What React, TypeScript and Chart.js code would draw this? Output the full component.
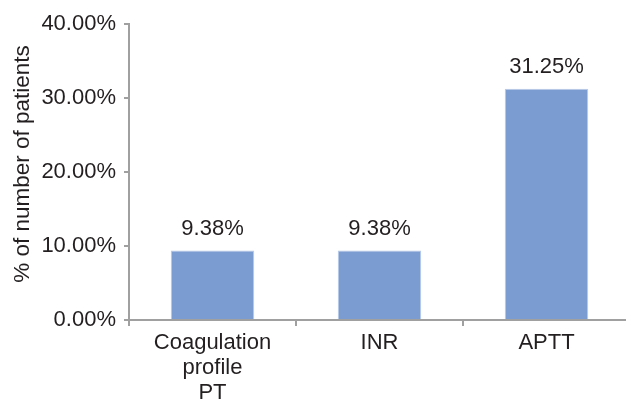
import React, { useEffect, useRef } from "react";
import { Chart, registerables } from "chart.js";

Chart.register(...registerables);

const categories: string[][] = [["Coagulation", "profile", "PT"], ["INR"], ["APTT"]];
const values: number[] = [9.38, 9.38, 31.25];
const valueLabels: string[] = ["9.38%", "9.38%", "31.25%"];
const yTicks: number[] = [0, 10, 20, 30, 40];
const yTitle = "% of number of patients";

const FONT = "'Liberation Sans', Arial, sans-serif";
const TEXT = "#231f20";
const AXIS = "#a0a0a0";

const labelPlugin = {
  id: "barLabels",
  afterDatasetsDraw(chart: any) {
    const { ctx } = chart;
    const meta = chart.getDatasetMeta(0);
    ctx.save();
    ctx.font = `22px ${FONT}`;
    ctx.fillStyle = TEXT;
    ctx.textAlign = "center";
    ctx.textBaseline = "middle";
    meta.data.forEach((el: any, i: number) => {
      const { x, y } = el.getProps(["x", "y"], true);
      ctx.fillText(valueLabels[i], x, y - 22);
    });
    ctx.restore();
  },
};

const titlePlugin = {
  id: "yTitle",
  afterDraw(chart: any) {
    const { ctx } = chart;
    ctx.save();
    ctx.font = `22.5px ${FONT}`;
    ctx.fillStyle = TEXT;
    ctx.textAlign = "center";
    ctx.textBaseline = "middle";
    ctx.translate(23, 164);
    ctx.rotate(-Math.PI / 2);
    ctx.fillText(yTitle, 0, 0);
    ctx.restore();
  },
};

export default function App() {
  const ref = useRef<HTMLCanvasElement>(null);
  useEffect(() => {
    document.body.style.margin = "0";
    const chart = new Chart(ref.current!, {
      type: "bar",
      data: {
        labels: categories as any,
        datasets: [
          {
            data: values,
            backgroundColor: "#7b9cd1",
            borderColor: "#b9cae8",
            borderWidth: 1,
            barPercentage: 0.5,
            categoryPercentage: 1,
          },
        ],
      },
      options: {
        responsive: false,
        animation: false,
        devicePixelRatio: 1,
        layout: { padding: { top: 24, right: 1, left: 0, bottom: 0 } },
        plugins: { legend: { display: false }, tooltip: { enabled: false } },
        scales: {
          x: {
            type: "category",
            offset: true,
            grid: {
              display: true,
              drawOnChartArea: false,
              drawTicks: true,
              tickLength: 6,
              color: AXIS,
              lineWidth: 2,
              offset: true,
            },
            border: { display: true, color: AXIS, width: 2 },
            ticks: {
              color: TEXT,
              font: { family: FONT, size: 22, lineHeight: 1.15 },
              padding: 4,
              maxRotation: 0,
              autoSkip: false,
            },
            afterFit: (s: any) => {
              s.height = 86;
            },
          },
          y: {
            min: 0,
            max: 40,
            afterBuildTicks: (s: any) => {
              s.ticks = yTicks.map((v) => ({ value: v }));
            },
            grid: {
              display: true,
              drawOnChartArea: false,
              drawTicks: true,
              tickLength: 5,
              color: AXIS,
              lineWidth: 2,
            },
            border: { display: true, color: AXIS, width: 2 },
            ticks: {
              color: TEXT,
              font: { family: FONT, size: 22 },
              padding: 8,
              callback: (v: any) => Number(v).toFixed(2) + "%",
            },
            title: { display: false },
            afterFit: (s: any) => {
              s.width = 129;
            },
          },
        },
      },
      plugins: [labelPlugin, titlePlugin],
    });
    return () => chart.destroy();
  }, []);
  return (
    <div style={{ width: 626, height: 406, overflow: "hidden", position: "relative", background: "#fff" }}>
      <canvas ref={ref} width={631} height={406} style={{ display: "block" }} />
    </div>
  );
}
